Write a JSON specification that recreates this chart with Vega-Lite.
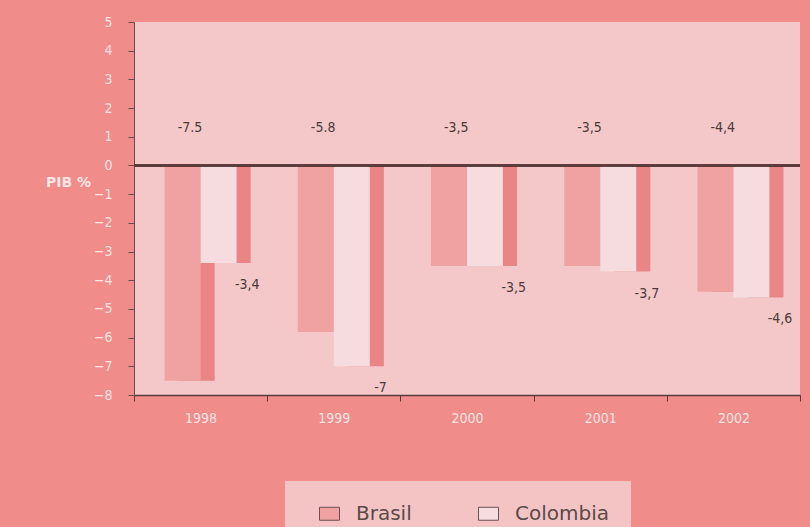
{
  "$schema": "https://vega.github.io/schema/vega-lite/v6.json",
  "width": 666,
  "height": 373,
  "autosize": {"type": "none"},
  "padding": {"left": 134, "top": 22, "right": 10, "bottom": 132},
  "background": "#f08c8a",
  "config": {
    "view": {"fill": "#f4c8c8", "stroke": null},
    "font": "DejaVu Sans",
    "legend": {
      "orient": "none",
      "legendX": 151,
      "legendY": 459,
      "direction": "horizontal",
      "fillColor": "#f4c4c4",
      "padding": 22,
      "symbolType": "M-1,-0.65H1V0.65H-1Z",
      "symbolSize": 400,
      "symbolOffset": 12,
      "symbolStrokeColor": "#6a5050",
      "symbolStrokeWidth": 1,
      "labelFontSize": 20,
      "labelFont": "DejaVu Sans",
      "labelColor": "#5a4a4a",
      "columnPadding": 54,
      "labelOffset": 16,
      "title": null
    }
  },
  "resolve": {"scale": {"xOffset": "independent"}},
  "data": {
    "values": [
      {"year": "1998", "series": "Brasil", "value": -7.5, "label": "-7.5"},
      {"year": "1998", "series": "Colombia", "value": -3.4, "label": "-3,4"},
      {"year": "1999", "series": "Brasil", "value": -5.8, "label": "-5.8"},
      {"year": "1999", "series": "Colombia", "value": -7, "label": "-7"},
      {"year": "2000", "series": "Brasil", "value": -3.5, "label": "-3,5"},
      {"year": "2000", "series": "Colombia", "value": -3.5, "label": "-3,5"},
      {"year": "2001", "series": "Brasil", "value": -3.5, "label": "-3,5"},
      {"year": "2001", "series": "Colombia", "value": -3.7, "label": "-3,7"},
      {"year": "2002", "series": "Brasil", "value": -4.4, "label": "-4,4"},
      {"year": "2002", "series": "Colombia", "value": -4.6, "label": "-4,6"}
    ]
  },
  "encoding": {
    "x": {
      "field": "year", "type": "nominal",
      "scale": {"paddingInner": 0, "paddingOuter": 0},
      "axis": {
        "title": null, "labelAngle": 0, "labelColor": "#fbe3e3", "labelFontSize": 14,
        "labelFont": "DejaVu Sans Condensed",
        "labelPadding": 10, "tickBand": "extent", "domainColor": "#5a3a3a",
        "tickColor": "#5a3a3a", "tickSize": 6, "domainWidth": 1.5
      }
    },
    "y": {
      "field": "value", "type": "quantitative",
      "scale": {"domain": [-8, 5], "nice": false, "zero": false},
      "axis": {
        "values": [-8, -7, -6, -5, -4, -3, -2, -1, 0, 1, 2, 3, 4, 5],
        "labelOverlap": false,
        "title": "PIB %", "titleAngle": 0, "titleX": -66, "titleY": 160,
        "titleAlign": "center", "titleBaseline": "middle",
        "titleFontSize": 14, "titleFontWeight": "bold", "titleColor": "#fbe6e6",
        "labelColor": "#fbe3e3", "labelFontSize": 14, "labelFont": "DejaVu Sans Condensed",
        "domainColor": "#6a4a4a", "tickColor": "#6a4a4a", "tickSize": 6,
        "grid": false, "labelPadding": 16
      }
    }
  },
  "layer": [
    {
      "mark": {"type": "bar", "color": "#ea8585"},
      "encoding": {
        "xOffset": {"field": "series", "type": "nominal", "scale": {"domain": ["Brasil", "Colombia"], "paddingInner": 0, "paddingOuter": 0.85, "align": 0.73}},
        "y2": {"datum": 0}
      }
    },
    {
      "mark": {"type": "bar"},
      "encoding": {
        "xOffset": {"field": "series", "type": "nominal", "scale": {"domain": ["Brasil", "Colombia"], "paddingInner": 0, "paddingOuter": 0.85, "align": 0.5}},
        "y2": {"datum": 0},
        "color": {"field": "series", "type": "nominal", "scale": {"domain": ["Brasil", "Colombia"], "range": ["#f0a2a2", "#f6dcde"]}}
      }
    },
    {
      "mark": {"type": "rule", "color": "#5a3a3a", "strokeWidth": 1.5},
      "encoding": {
        "x": null,
        "y": {
          "datum": 0, "type": "quantitative",
          "axis": {
            "values": [-8, -7, -6, -5, -4, -3, -2, -1, 0, 1, 2, 3, 4, 5],
            "labelOverlap": false,
            "title": "PIB %", "titleAngle": 0, "titleX": -66, "titleY": 160,
            "titleAlign": "center", "titleBaseline": "middle",
            "titleFontSize": 14, "titleFontWeight": "bold", "titleColor": "#fbe6e6",
            "labelColor": "#fbe3e3", "labelFontSize": 14, "labelFont": "DejaVu Sans Condensed",
            "domainColor": "#6a4a4a", "tickColor": "#6a4a4a", "tickSize": 6,
            "grid": false, "labelPadding": 16
          }
        }
      }
    },
    {
      "transform": [{"filter": "datum.series === 'Brasil'"}],
      "mark": {"type": "text", "fontSize": 14, "font": "DejaVu Sans Condensed", "color": "#4a3a3a", "dx": 14},
      "encoding": {
        "xOffset": {"field": "series", "type": "nominal", "scale": {"domain": ["Brasil", "Colombia"], "paddingInner": 0, "paddingOuter": 0.85, "align": 0.5}},
        "y": {
          "datum": 1.3, "type": "quantitative",
          "axis": {
            "values": [-8, -7, -6, -5, -4, -3, -2, -1, 0, 1, 2, 3, 4, 5],
            "labelOverlap": false,
            "title": "PIB %", "titleAngle": 0, "titleX": -66, "titleY": 160,
            "titleAlign": "center", "titleBaseline": "middle",
            "titleFontSize": 14, "titleFontWeight": "bold", "titleColor": "#fbe6e6",
            "labelColor": "#fbe3e3", "labelFontSize": 14, "labelFont": "DejaVu Sans Condensed",
            "domainColor": "#6a4a4a", "tickColor": "#6a4a4a", "tickSize": 6,
            "grid": false, "labelPadding": 16
          }
        },
        "text": {"field": "label"}
      }
    },
    {
      "transform": [{"filter": "datum.series === 'Colombia'"}],
      "mark": {"type": "text", "fontSize": 14, "font": "DejaVu Sans Condensed", "color": "#4a3a3a", "dx": 22, "dy": 22},
      "encoding": {
        "xOffset": {"field": "series", "type": "nominal", "scale": {"domain": ["Brasil", "Colombia"], "paddingInner": 0, "paddingOuter": 0.85, "align": 0.5}},
        "text": {"field": "label"}
      }
    }
  ]
}
